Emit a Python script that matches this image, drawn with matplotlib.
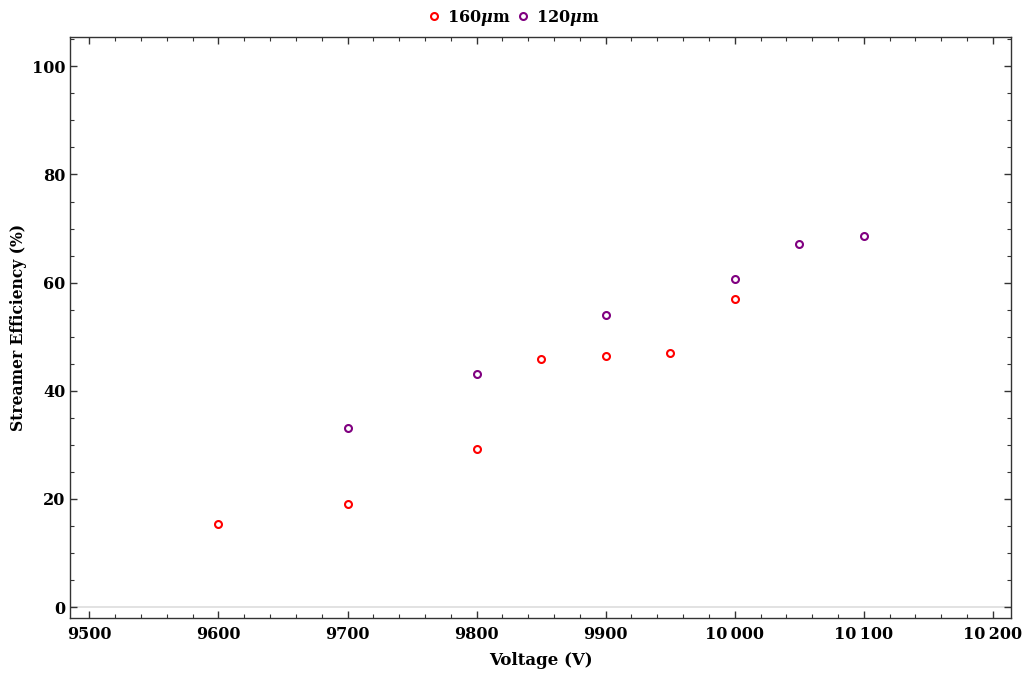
import matplotlib
matplotlib.use("Agg")
import matplotlib.pyplot as plt
from matplotlib.ticker import MultipleLocator, FuncFormatter

# Data
v160 = [9600, 9700, 9800, 9850, 9900, 9950, 10000]
e160 = [15.3, 19.0, 29.2, 45.8, 46.4, 46.9, 56.9]
v120 = [9700, 9800, 9900, 10000, 10050, 10100]
e120 = [33.1, 43.1, 54.0, 60.6, 67.1, 68.6]
labels = [r"160$\mu$m", r"120$\mu$m"]
colors = ["#ff0000", "#800080"]

plt.rcParams['font.family'] = ['DejaVu Serif']
plt.rcParams['font.weight'] = 'bold'
plt.rcParams['mathtext.fontset'] = 'dejavuserif'

fig = plt.figure(figsize=(10.25, 6.74), dpi=100)
ax = fig.add_axes([0.0683, 0.0831, 0.9863 - 0.0683, 0.945 - 0.0831])

for v, e, lab, c in [(v160, e160, labels[0], colors[0]), (v120, e120, labels[1], colors[1])]:
    ax.plot(v, e, linestyle='none', marker='o', markersize=5, markerfacecolor='white',
            markeredgecolor=c, markeredgewidth=1.5, label=lab)

ax.axhline(0, color='#dddddd', lw=1.2, zorder=0)
ax.set_xlim(9485, 10214)
ax.set_ylim(-2, 105.4)

ax.xaxis.set_major_locator(MultipleLocator(100))
ax.xaxis.set_minor_locator(MultipleLocator(20))
ax.yaxis.set_major_locator(MultipleLocator(20))
ax.yaxis.set_minor_locator(MultipleLocator(5))

def xfmt(x, pos):
    s = f"{int(round(x))}"
    if len(s) > 4:
        s = s[:-3] + "\u2009" + s[-3:]
    return s
ax.xaxis.set_major_formatter(FuncFormatter(xfmt))

ax.tick_params(which='both', direction='in', top=True, right=True, colors='#333333',
               labelcolor='black', labelsize=11.5)
ax.tick_params(which='major', length=5, width=1)
ax.tick_params(which='minor', length=3, width=0.8)
for lab in ax.get_xticklabels() + ax.get_yticklabels():
    lab.set_fontweight('bold')
ax.tick_params(axis='x', pad=6)
for s in ax.spines.values():
    s.set_color('#333333')
    s.set_linewidth(1)

ax.set_xlabel("Voltage (V)", fontsize=12, fontweight='bold', labelpad=6)
ax.set_ylabel("Streamer Efficiency (%)", fontsize=11.2, fontweight='bold', labelpad=3)

fig.legend(loc='upper center', bbox_to_anchor=(0.5, 1.01), ncol=2, frameon=False,
           prop={'size': 11.5, 'weight': 'bold'}, handletextpad=0.3, columnspacing=0.3,
           handlelength=1.0)

fig.savefig("out.png", dpi=100)
